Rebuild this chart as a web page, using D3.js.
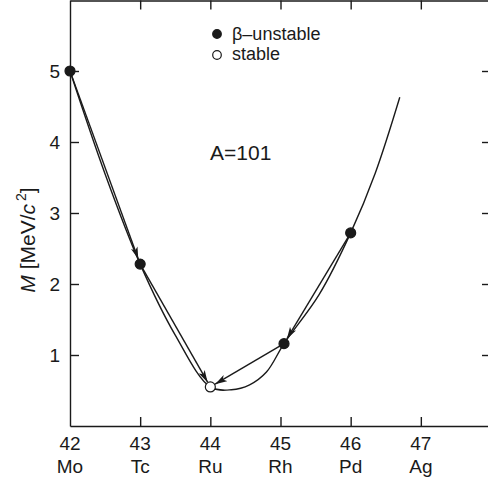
<!DOCTYPE html>
<html>
<head>
<meta charset="utf-8">
<script src="https://cdn.jsdelivr.net/npm/d3@7"></script>
<style>
  body{margin:0;background:#fff;}
  svg{display:block;font-family:"Liberation Sans",Arial,sans-serif;}
</style>
</head>
<body>
<div id="chart"></div>
<script>
// tick values and labels
var zTicks = [42,43,44,45,46,47];
var elements = ["Mo","Tc","Ru","Rh","Pd","Ag"];
var mTicks = [1,2,3,4,5];

// nuclides of A=101
var nucName = ["Mo","Tc","Ru","Rh","Pd"];
var nucZ = [42,43,44,45.05,46];
var nucM = [5.0,2.28,0.55,1.16,2.72];
var nucStable = [false,false,true,false,false];

// mass parabola
var curveZ = [42,42.5,43,43.5,44,44.3,44.56,44.8,45.05,45.55,46,46.35,46.7];
var curveM = [5.0,3.55,2.28,1.28,0.55,0.51,0.58,0.76,1.16,1.85,2.72,3.56,4.63];

// beta decays
var decayFrom = ["Mo","Tc","Pd","Rh"];
var decayTo = ["Tc","Ru","Rh","Ru"];

var legendLabels = ["\u03b2\u2013unstable","stable"];

var width = 488, height = 482;
var padL = 70, padR = 491, padT = 0, padB = 426;
var ink = "#1a1a1a";

var svg = d3.select("#chart")
    .append("svg")
    .attr("width",width)
    .attr("height",height);

var xScale = d3.scaleLinear()
    .domain([42,48])
    .range([padL,padR]);

var yScale = d3.scaleLinear()
    .domain([0,6])
    .range([padB,padT]);

// frame + inward ticks
svg.append("g")
    .attr("transform","translate(0,"+padB+")")
    .call(d3.axisBottom(xScale).tickValues(zTicks.slice(1)).tickSize(-9).tickSizeOuter(0).tickFormat(""));
svg.append("g")
    .attr("transform","translate(0,"+(padT+0.5)+")")
    .call(d3.axisTop(xScale).tickValues(zTicks.slice(1)).tickSize(-9).tickSizeOuter(0).tickFormat(""));
svg.append("g")
    .attr("transform","translate("+padL+",0)")
    .call(d3.axisLeft(yScale).tickValues(mTicks).tickSize(-9).tickSizeOuter(0).tickFormat(""));
svg.append("g")
    .attr("transform","translate("+padR+",0)")
    .call(d3.axisRight(yScale).tickValues(mTicks).tickSize(-9).tickSizeOuter(0).tickFormat(""));
svg.selectAll(".domain, .tick line")
    .attr("stroke",ink)
    .attr("stroke-width",1.4);

// tick labels
var ylab = svg.append("g")
    .attr("font-size",19)
    .attr("fill",ink);
ylab.selectAll("text")
    .data(mTicks)
    .enter()
    .append("text")
    .attr("text-anchor","end")
    .attr("x",padL-10)
    .attr("y",function(d){return yScale(d)+7;})
    .text(function(d){return d;});

var xlab = svg.append("g")
    .attr("font-size",19)
    .attr("fill",ink)
    .attr("text-anchor","middle");
xlab.selectAll("text.num")
    .data(zTicks)
    .enter()
    .append("text")
    .attr("class","num")
    .attr("x",function(d){return xScale(d);})
    .attr("y",450)
    .text(function(d){return d;});
xlab.selectAll("text.el")
    .data(zTicks)
    .enter()
    .append("text")
    .attr("class","el")
    .attr("x",function(d){return xScale(d);})
    .attr("y",473)
    .text(function(d,i){return elements[i];});

// y axis title
var ytitle = svg.append("text")
    .attr("transform","translate(35,240) rotate(-90)")
    .attr("text-anchor","middle")
    .attr("font-size",21)
    .attr("fill",ink);
ytitle.append("tspan").attr("font-style","italic").text("M");
ytitle.append("tspan").text(" [MeV/");
ytitle.append("tspan").attr("font-style","italic").text("c");
ytitle.append("tspan").attr("font-size",14).attr("dy",-9).attr("dx",3).text("2");
ytitle.append("tspan").attr("dy",9).text("]");

// parabola
var line = d3.line()
    .x(function(d){return xScale(d[0]);})
    .y(function(d){return yScale(d[1]);})
    .curve(d3.curveCatmullRom.alpha(0.5));
svg.append("path")
    .datum(curveZ.map(function(z,i){return [z,curveM[i]];}))
    .attr("fill","none")
    .attr("stroke",ink)
    .attr("stroke-width",1.4)
    .attr("d",line);

// arrows
svg.append("defs").append("marker")
    .attr("id","head")
    .attr("markerUnits","userSpaceOnUse")
    .attr("viewBox","0 0 12 8")
    .attr("refX",12)
    .attr("refY",4)
    .attr("markerWidth",12)
    .attr("markerHeight",8)
    .attr("orient","auto")
    .append("path")
    .attr("d","M0,0.5 L12,4 L0,7.5 L3,4 Z")
    .attr("fill",ink);

var r = 5.5;
decayFrom.forEach(function(f,i){
  var a = nucName.indexOf(f), b = nucName.indexOf(decayTo[i]);
  var x1 = xScale(nucZ[a]), y1 = yScale(nucM[a]);
  var x2 = xScale(nucZ[b]), y2 = yScale(nucM[b]);
  var len = Math.sqrt((x2-x1)*(x2-x1)+(y2-y1)*(y2-y1));
  var ux = (x2-x1)/len, uy = (y2-y1)/len;
  svg.append("line")
    .attr("x1",x1+ux*2).attr("y1",y1+uy*2)
    .attr("x2",x2-ux*r).attr("y2",y2-uy*r)
    .attr("stroke",ink)
    .attr("stroke-width",1.4)
    .attr("marker-end","url(#head)");
});

// nuclide markers
svg.append("g")
    .selectAll("circle")
    .data(nucZ)
    .enter()
    .append("circle")
    .attr("cx",function(d){return xScale(d);})
    .attr("cy",function(d,i){return yScale(nucM[i]);})
    .attr("r",5)
    .attr("fill",function(d,i){return nucStable[i] ? "#fff" : ink;})
    .attr("stroke",ink)
    .attr("stroke-width",1.2);

// legend
var legend = svg.append("g").attr("font-size",18).attr("fill",ink);
legendLabels.forEach(function(t,i){
  legend.append("circle")
    .attr("cx",217)
    .attr("cy",34+i*21)
    .attr("r",4.3)
    .attr("fill",i==0 ? ink : "#fff")
    .attr("stroke",ink)
    .attr("stroke-width",1.2);
  legend.append("text")
    .attr("x",232)
    .attr("y",40+i*20)
    .text(t);
});

svg.append("text")
    .attr("x",210)
    .attr("y",160)
    .attr("font-size",21)
    .attr("fill",ink)
    .text("A=101");
</script>
</body>
</html>
